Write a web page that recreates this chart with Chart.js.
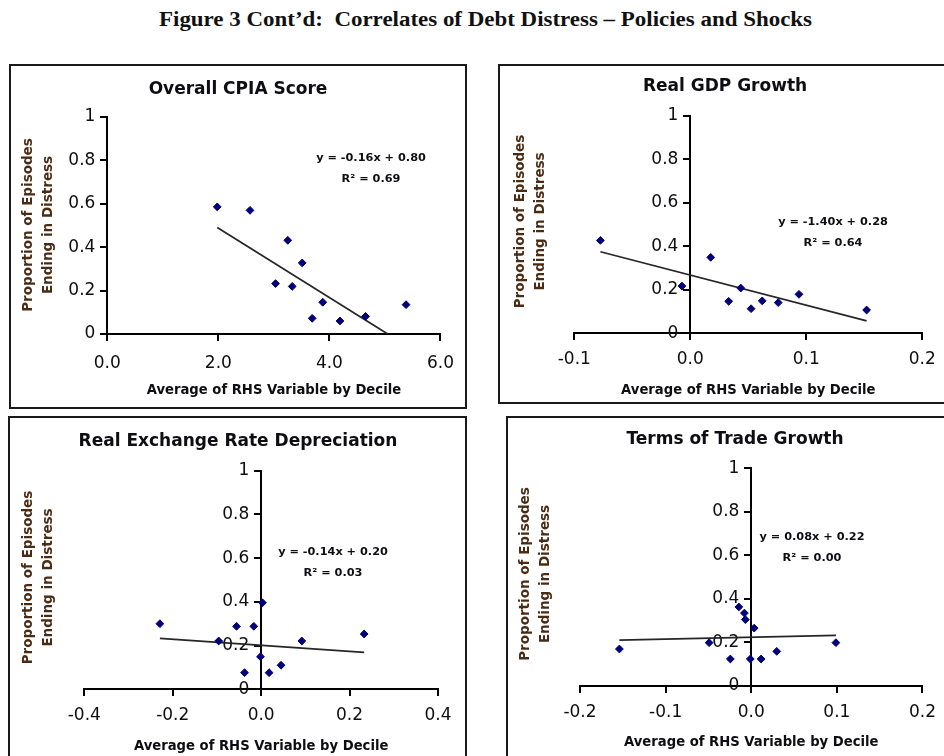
<!DOCTYPE html>
<html>
<head>
<meta charset="utf-8">
<script src="https://cdn.jsdelivr.net/npm/chart.js@4.4.1/dist/chart.umd.min.js"></script>
<style>
  html, body { margin: 0; padding: 0; background: #fff; }
  body { width: 944px; height: 756px; position: relative; overflow: hidden; }
  #mainTitle { position: absolute; left: 159px; top: 9px; white-space: nowrap;
    font-family: "Liberation Serif", "Times New Roman", serif; font-weight: bold; font-size: 20px;
    line-height: 20px; color: #111; transform-origin: 0 0; }
  canvas { position: absolute; }
  .box { position: absolute; box-sizing: border-box; border: 2px solid #1a1a1a; pointer-events: none; }
</style>
</head>
<body>
<div id="mainTitle">Figure 3 Cont’d:&nbsp; Correlates of Debt Distress – Policies and Shocks</div>

<canvas id="c1" width="458" height="345" style="left:9px;top:64px;width:458px;height:345px"></canvas>
<canvas id="c2" width="448" height="340" style="left:498px;top:64px;width:448px;height:340px"></canvas>
<canvas id="c3" width="458" height="350" style="left:9px;top:417px;width:458px;height:350px"></canvas>
<canvas id="c4" width="440" height="350" style="left:506px;top:417px;width:440px;height:350px"></canvas>

<div class="box" style="left:9px;top:64px;width:458px;height:345px"></div>
<div class="box" style="left:498px;top:64px;width:460px;height:340px"></div>
<div class="box" style="left:8px;top:416px;width:459px;height:360px"></div>
<div class="box" style="left:506px;top:416px;width:460px;height:360px"></div>

<script>
// ---------------- DATA ----------------
const yTickValues = [0, 0.2, 0.4, 0.6, 0.8, 1];
const yTickLabels = ['0', '0.2', '0.4', '0.6', '0.8', '1'];
const yAxisTitle = ['Proportion of Episodes', 'Ending in Distress'];
const xAxisTitle = 'Average of RHS Variable by Decile';

// Panel 1: Overall CPIA Score
const cpiaTitle = 'Overall CPIA Score';
const cpiaX = [1.98, 2.57, 3.25, 3.51, 3.03, 3.33, 3.88, 3.69, 4.19, 4.65, 5.38];
const cpiaY = [0.585, 0.569, 0.431, 0.327, 0.232, 0.219, 0.146, 0.072, 0.060, 0.081, 0.135];
const cpiaTrendX = [1.98, 5.05];
const cpiaTrendY = [0.49, 0.0];
const cpiaXTicks = [0, 2, 4, 6];
const cpiaXLabels = ['0.0', '2.0', '4.0', '6.0'];
const cpiaEq = 'y = -0.16x + 0.80';
const cpiaR2 = 'R² = 0.69';

// Panel 2: Real GDP Growth
const gdpTitle = 'Real GDP Growth';
const gdpX = [-0.0775, -0.0072, 0.0176, 0.0331, 0.0435, 0.0524, 0.062, 0.0758, 0.0937, 0.152];
const gdpY = [0.427, 0.217, 0.349, 0.147, 0.208, 0.113, 0.149, 0.141, 0.179, 0.107];
const gdpTrendX = [-0.0775, 0.152];
const gdpTrendY = [0.375, 0.057];
const gdpXTicks = [-0.1, 0, 0.1, 0.2];
const gdpXLabels = ['-0.1', '0.0', '0.1', '0.2'];
const gdpEq = 'y = -1.40x + 0.28';
const gdpR2 = 'R² = 0.64';

// Panel 3: Real Exchange Rate Depreciation
const rerTitle = 'Real Exchange Rate Depreciation';
const rerX = [-0.229, -0.096, -0.0557, -0.0166, 0.003, -0.0015, -0.0376, 0.018, 0.045, 0.092, 0.233];
const rerY = [0.300, 0.221, 0.288, 0.288, 0.396, 0.149, 0.076, 0.076, 0.110, 0.221, 0.253];
const rerTrendX = [-0.229, 0.233];
const rerTrendY = [0.233, 0.169];
const rerXTicks = [-0.4, -0.2, 0, 0.2, 0.4];
const rerXLabels = ['-0.4', '-0.2', '0.0', '0.2', '0.4'];
const rerEq = 'y = -0.14x + 0.20';
const rerR2 = 'R² = 0.03';

// Panel 4: Terms of Trade Growth
const totTitle = 'Terms of Trade Growth';
const totX = [-0.154, -0.0492, -0.0244, -0.0145, -0.008, -0.0069, 0.0034, -0.0011, 0.0115, 0.0298, 0.0989];
const totY = [0.170, 0.199, 0.124, 0.363, 0.335, 0.305, 0.266, 0.124, 0.124, 0.159, 0.199];
const totTrendX = [-0.154, 0.099];
const totTrendY = [0.211, 0.233];
const totXTicks = [-0.2, -0.1, 0, 0.1, 0.2];
const totXLabels = ['-0.2', '-0.1', '0.0', '0.1', '0.2'];
const totEq = 'y = 0.08x + 0.22';
const totR2 = 'R² = 0.00';

// ---------------- RENDER ----------------
(function () {
  const t = document.getElementById('mainTitle');
  const w = t.getBoundingClientRect().width;
  t.style.transform = 'scaleX(' + (653 / w) + ')';
})();

const FONT = '"DejaVu Sans", "Liberation Sans", Arial, sans-serif';
const INK = '#0d0d12';

const panelText = {
  id: 'panelText',
  afterDraw(chart, args, o) {
    const ctx = chart.ctx;
    const ca = chart.chartArea;
    ctx.save();
    ctx.textAlign = 'center';
    ctx.textBaseline = 'middle';
    ctx.fillStyle = INK;
    ctx.font = 'bold 17px ' + FONT;
    ctx.fillText(o.title, o.titleX, o.titleY);
    ctx.save();
    ctx.translate(o.yTitleX, o.yTitleY);
    ctx.rotate(-Math.PI / 2);
    ctx.fillStyle = '#4a2c14';
    ctx.font = 'bold 13.5px ' + FONT;
    ctx.fillText(yAxisTitle[0], 0, -10);
    ctx.fillText(yAxisTitle[1], 0, 10);
    ctx.restore();
    const y0 = chart.scales.y.getPixelForValue(0);
    ctx.fillStyle = INK;
    ctx.font = 'bold 13.2px ' + FONT;
    ctx.fillText(xAxisTitle, (ca.left + ca.right) / 2, y0 + 57);
    ctx.font = 'bold 11.3px ' + FONT;
    ctx.fillText(o.eq, o.eqX, o.eqY);
    ctx.fillText(o.r2, o.eqX, o.eqY + 21);
    ctx.restore();
  }
};

function pts(xs, ys) { return xs.map((x, i) => ({ x: x, y: ys[i] })); }

function makePanel(id, p) {
  new Chart(document.getElementById(id), {
    type: 'scatter',
    data: {
      datasets: [
        {
          label: 'Deciles',
          data: pts(p.x, p.y),
          pointStyle: 'rectRot',
          pointRadius: 3.9,
          pointBorderWidth: 1,
          backgroundColor: '#00007a',
          borderColor: '#00007a',
          order: 0
        },
        {
          label: 'Linear trend',
          type: 'line',
          data: pts(p.tx, p.ty),
          borderColor: '#262626',
          borderWidth: 1.7,
          pointRadius: 0,
          fill: false,
          order: 1
        }
      ]
    },
    options: {
      responsive: false,
      devicePixelRatio: 1,
      animation: false,
      events: [],
      layout: { padding: p.pad },
      plugins: {
        legend: { display: false },
        tooltip: { enabled: false },
        title: { display: false },
        panelText: p.text
      },
      scales: {
        x: {
          type: 'linear',
          position: { y: 0 },
          min: p.xTicks[0],
          max: p.xTicks[p.xTicks.length - 1],
          afterBuildTicks: s => { s.ticks = p.xTicks.map(v => ({ value: v })); },
          ticks: {
            autoSkip: false, maxRotation: 0, minRotation: 0,
            padding: p.xPad,
            color: INK,
            font: { family: FONT, size: 17 },
            callback: (v, i) => p.xLabels[i]
          },
          grid: { display: true, drawOnChartArea: false, drawTicks: true, tickLength: 6, lineWidth: 2, color: '#000' },
          border: { display: true, width: 2, color: '#000' }
        },
        y: {
          type: 'linear',
          position: { x: 0 },
          min: 0,
          max: 1,
          afterBuildTicks: s => { s.ticks = yTickValues.map(v => ({ value: v })); },
          ticks: {
            autoSkip: false,
            color: INK,
            font: { family: FONT, size: 17 },
            callback: (v, i) => yTickLabels[i] + '\u2002\u2009'
          },
          grid: { display: true, drawOnChartArea: false, drawTicks: true, tickLength: 6, lineWidth: 2, color: '#000' },
          border: { display: true, width: 2, color: '#000' }
        }
      }
    },
    plugins: [panelText]
  });
}

makePanel('c1', {
  x: cpiaX, y: cpiaY, tx: cpiaTrendX, ty: cpiaTrendY,
  xTicks: cpiaXTicks, xLabels: cpiaXLabels, xPad: 13,
  pad: { left: 98.3, right: 25.3, top: 52.7, bottom: 75 },
  text: { title: cpiaTitle, titleX: 229, titleY: 26, yTitleX: 29, yTitleY: 161,
          eq: cpiaEq, r2: cpiaR2, eqX: 362, eqY: 94 }
});
makePanel('c2', {
  x: gdpX, y: gdpY, tx: gdpTrendX, ty: gdpTrendY,
  xTicks: gdpXTicks, xLabels: gdpXLabels, xPad: 10,
  pad: { left: 76.3, right: 23.7, top: 51.7, bottom: 70.7 },
  text: { title: gdpTitle, titleX: 227, titleY: 23, yTitleX: 32, yTitleY: 157.5,
          eq: gdpEq, r2: gdpR2, eqX: 335, eqY: 158 }
});
makePanel('c3', {
  x: rerX, y: rerY, tx: rerTrendX, ty: rerTrendY,
  xTicks: rerXTicks, xLabels: rerXLabels, xPad: 10,
  pad: { left: 75.3, right: 29, top: 53.7, bottom: 77.7 },
  text: { title: rerTitle, titleX: 229, titleY: 25, yTitleX: 29.3, yTitleY: 160.5,
          eq: rerEq, r2: rerR2, eqX: 324, eqY: 134.7 }
});
makePanel('c4', {
  x: totX, y: totY, tx: totTrendX, ty: totTrendY,
  xTicks: totXTicks, xLabels: totXLabels, xPad: 10,
  pad: { left: 74, right: 16.7, top: 51.3, bottom: 81 },
  text: { title: totTitle, titleX: 229, titleY: 23, yTitleX: 29.3, yTitleY: 157,
          eq: totEq, r2: totR2, eqX: 306, eqY: 120 }
});
</script>
</body>
</html>
